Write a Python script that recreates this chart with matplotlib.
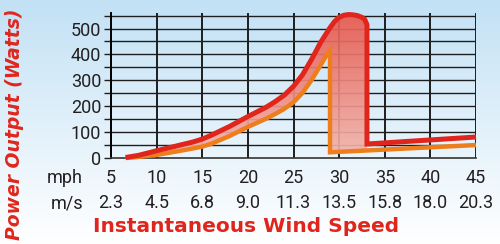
import numpy as np
import matplotlib
matplotlib.use("Agg")
import matplotlib.pyplot as plt
from matplotlib.colors import LinearSegmentedColormap
from matplotlib.patches import Polygon

# ---- data ----
mph = [5, 10, 15, 20, 25, 30, 35, 40, 45]
ms = ["2.3", "4.5", "6.8", "9.0", "11.3", "13.5", "15.8", "18.0", "20.3"]
y_ticks = [0, 100, 200, 300, 400, 500]

red_x = [6.6, 8, 10, 12, 14, 15, 16, 18, 20, 22, 23, 24, 25, 26, 27, 28, 29, 29.5, 30, 30.5, 31, 31.5, 32, 32.5, 32.8, 33.05]
red_y = [2, 10, 28, 45, 62, 73, 88, 122, 160, 196, 218, 243, 277, 322, 382, 448, 503, 527, 543, 551, 554, 553, 550, 543, 535, 515]
red_tail_x = [33.05, 45]
red_tail_y = [54, 81]

orange_x = [6.6, 8, 10, 12, 14, 15, 16, 18, 20, 22, 23, 24, 25, 26, 27, 28, 28.5, 29.0]
orange_y = [0, 4, 12, 24, 37, 44, 55, 85, 120, 152, 170, 190, 215, 252, 302, 360, 390, 415]
orange_tail_x = [29.0, 45]
orange_tail_y = [22, 50]

RED = "#e0261c"
ORANGE = "#ee7d1c"
TXT = "#231f20"
FN = ["Roboto", "DejaVu Sans"]
TS = 13

fig = plt.figure(figsize=(5, 2.44), dpi=100)

# background gradient
bg = fig.add_axes([0, 0, 1, 1], zorder=-10)
grad = np.linspace(0, 1, 256).reshape(-1, 1)
bg_cmap = LinearSegmentedColormap.from_list("bg", ["#c2e1f5", "#ffffff"])
bg.imshow(grad, aspect="auto", cmap=bg_cmap, extent=[0, 1, 0, 1], origin="upper")
bg.set_axis_off()

ax = fig.add_axes([0.222, 0.3525, 0.730, 0.5943])
ax.patch.set_visible(False)
ax.set_xlim(5, 45)
ax.set_ylim(0, 560)

# grid
for v in mph:
    ax.axvline(v, color="#1e1e1e", lw=1.4, zorder=1)
for h in np.arange(50, 551, 50):
    ax.axhline(h, color="#1e1e1e", lw=1.0, zorder=1)

for s in ["top", "right"]:
    ax.spines[s].set_visible(False)
ax.spines["left"].set_linewidth(1.4)
ax.spines["bottom"].set_linewidth(1.2)
ax.spines["bottom"].set_color("#333333")

ax.set_yticks(y_ticks)
ax.set_yticks(np.arange(50, 551, 100), minor=True)
ax.tick_params(axis="y", which="both", length=5, width=1.0, color="#1e1e1e", pad=2,
               labelsize=TS, labelcolor=TXT)
for lab in ax.get_yticklabels():
    lab.set_family(FN)
ax.set_xticks(mph)
ax.tick_params(axis="x", length=0, labelbottom=False)

# x tick label rows
for m, s in zip(mph, ms):
    ax.annotate(str(m), xy=(m, 0), xycoords=("data", "axes fraction"), xytext=(0, -18),
                textcoords="offset points", ha="center", va="baseline", fontsize=TS,
                color=TXT, family=FN, annotation_clip=False)
    ax.annotate(s, xy=(m, 0), xycoords=("data", "axes fraction"), xytext=(0, -36),
                textcoords="offset points", ha="center", va="baseline", fontsize=TS,
                color=TXT, family=FN, annotation_clip=False)
fig.text(83 / 500, 1 - 183 / 244, "mph", ha="right", va="baseline", fontsize=TS, color=TXT, family=FN)
fig.text(83 / 500, 1 - 208 / 244, "m/s", ha="right", va="baseline", fontsize=TS, color=TXT, family=FN)

# filled region with gradient
drop_x = red_tail_x[0]
orange_at_drop = orange_tail_y[0] + (orange_tail_y[1] - orange_tail_y[0]) * (drop_x - orange_tail_x[0]) / (orange_tail_x[1] - orange_tail_x[0])
poly_x = list(red_x) + [drop_x, orange_tail_x[0]] + orange_x[::-1]
poly_y = list(red_y) + [orange_at_drop, orange_tail_y[0]] + orange_y[::-1]
poly = Polygon(np.column_stack([poly_x, poly_y]), closed=True, facecolor="none", edgecolor="none",
               transform=ax.transData)
ax.add_patch(poly)
fill_cmap = LinearSegmentedColormap.from_list("fill", ["#f2b7ae", "#e8574c"])
im = ax.imshow(np.linspace(0, 1, 256).reshape(-1, 1), aspect="auto", cmap=fill_cmap,
               extent=[5, 45, 0, 560], origin="lower", zorder=2, alpha=0.92)
im.set_clip_path(poly)

# lines
ax.plot(orange_x + orange_tail_x, orange_y + orange_tail_y, color=ORANGE, lw=3.2,
        solid_joinstyle="miter", solid_capstyle="butt", zorder=3, clip_on=False)
ax.plot(red_x + red_tail_x, red_y + red_tail_y, color=RED, lw=3.6,
        solid_joinstyle="miter", solid_capstyle="butt", zorder=4, clip_on=False)

# axis titles
fig.text(246 / 500, 1 - 226 / 244, "Instantaneous Wind Speed", ha="center", va="center",
         fontsize=14.5, fontweight="bold", color=RED, family="DejaVu Sans")
fig.text(15 / 500, 1 - 124 / 244, "Power Output (Watts)", ha="center", va="center",
         rotation=90, fontsize=13.5, fontweight="bold", style="italic", color=RED,
         family="DejaVu Sans")

fig.savefig("out.png", dpi=100)
